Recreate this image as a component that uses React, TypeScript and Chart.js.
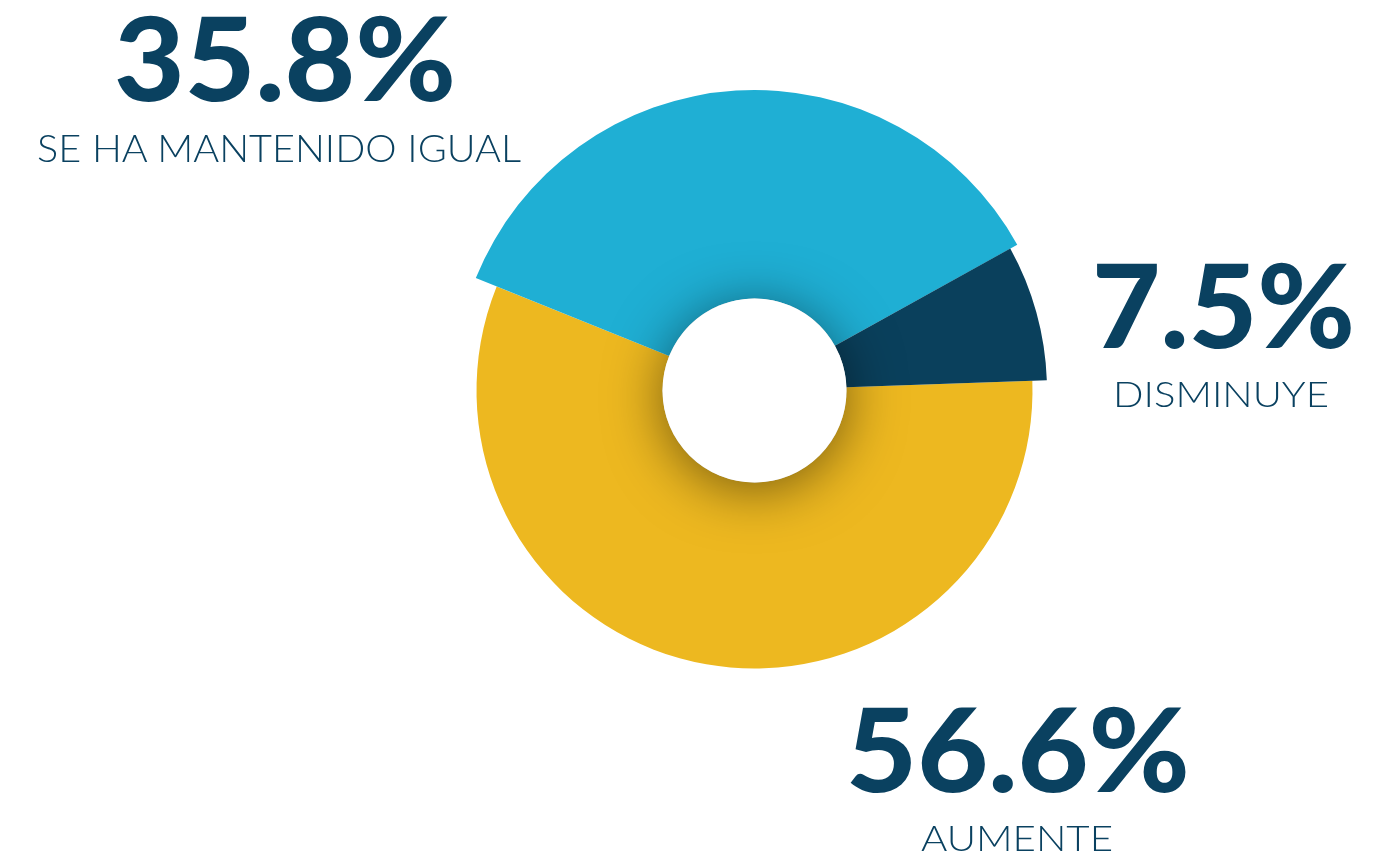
import React, { useEffect, useLayoutEffect, useRef } from "react";
import { Chart, registerables } from "chart.js";

Chart.register(...registerables);

// ---- data ----
const categories = ["AUMENTE", "SE HA MANTENIDO IGUAL", "DISMINUYE"];
const values = [56.6, 35.8, 7.5];
const valueLabels = ["56.6%", "35.8%", "7.5%"];

// ---- styles ----
const sliceColors = ["#edb820", "#1fafd4", "#0a405c"];
const radiusScale = [278 / 300.5, 1, 292.5 / 300.5];
const TEXT_COLOR = "#0a4160";
const OUTER_R = 300.5;
const INNER_R = 92;
const CX = 754.5;
const CY = 390.5;
const W = 1385;
const H = 858;

// label layout (ink boxes), index-aligned with categories
const bigLayout = [
  { left: 846, right: 1190, capTop: 708, baseline: 792 },
  { left: 114, right: 456, capTop: 18.3, baseline: 102 },
  { left: 1092, right: 1355, capTop: 264.5, baseline: 348 },
];
const subLayout = [
  { left: 921, right: 1113, capTop: 825, baseline: 851 },
  { left: 37, right: 521, capTop: 135, baseline: 162 },
  { left: 1113, right: 1329, capTop: 383, baseline: 408 },
];

const CAP = 0.7165;
const ASC = 0.887;

type Spec = { left: number; right: number; capTop: number; baseline: number };

function FitLabel({ text, spec, weight }: { text: string; spec: Spec; weight: number }) {
  const ref = useRef<HTMLDivElement>(null);
  const fontSize = (spec.baseline - spec.capTop) / CAP;
  const top = spec.baseline - ASC * fontSize;
  useLayoutEffect(() => {
    const el = ref.current;
    if (!el) return;
    const measure = () => {
      el.style.transform = "none";
      const w = el.getBoundingClientRect().width;
      if (w > 0) el.style.transform = `scaleX(${(spec.right - spec.left) / w})`;
    };
    measure();
    (document as any).fonts?.ready?.then(measure);
  }, []);
  return (
    <div
      ref={ref}
      style={{
        position: "absolute",
        left: spec.left,
        top,
        fontSize,
        fontFamily: "Lato, 'Noto Sans', sans-serif",
        fontWeight: weight,
        lineHeight: 1,
        whiteSpace: "nowrap",
        transformOrigin: "0 0",
        color: TEXT_COLOR,
      }}
    >
      {text}
    </div>
  );
}

export default function App() {
  const canvasRef = useRef<HTMLCanvasElement>(null);

  useEffect(() => {
    const canvas = canvasRef.current;
    if (!canvas) return;

    const radiusPlugin = {
      id: "sliceRadius",
      afterDatasetsUpdate(chart: any) {
        const meta = chart.getDatasetMeta(0);
        meta.data.forEach((arc: any, i: number) => {
          arc.outerRadius = OUTER_R * radiusScale[i];
        });
      },
    };

    const holeShadowPlugin = {
      id: "holeShadow",
      afterDatasetsDraw(chart: any) {
        const meta = chart.getDatasetMeta(0);
        const arc = meta.data[0];
        if (!arc) return;
        const ctx = chart.ctx;
        ctx.save();
        ctx.beginPath();
        ctx.arc(arc.x, arc.y, INNER_R, 0, Math.PI * 2);
        ctx.shadowColor = "rgba(0,0,0,0.5)";
        ctx.shadowBlur = 55;
        ctx.shadowOffsetY = 7;
        ctx.fillStyle = "#ffffff";
        ctx.fill();
        ctx.restore();
      },
    };

    const chart = new Chart(canvas, {
      type: "doughnut",
      data: {
        labels: categories,
        datasets: [
          {
            data: values,
            backgroundColor: sliceColors,
            borderWidth: 0,
            radius: OUTER_R,
            cutout: INNER_R,
          } as any,
        ],
      },
      options: {
        responsive: false,
        maintainAspectRatio: false,
        animation: false,
        devicePixelRatio: 1,
        rotation: 88,
        events: [],
        layout: {
          padding: {
            left: CX - OUTER_R,
            right: W - (CX + OUTER_R),
            top: CY - OUTER_R,
            bottom: H - (CY + OUTER_R),
          },
        },
        plugins: {
          legend: { display: false },
          tooltip: { enabled: false },
        },
      },
      plugins: [radiusPlugin, holeShadowPlugin],
    });

    return () => chart.destroy();
  }, []);

  return (
    <div
      style={{
        position: "absolute",
        left: 0,
        top: 0,
        width: W,
        height: H,
        overflow: "hidden",
        background: "#ffffff",
      }}
    >
      <canvas ref={canvasRef} width={W} height={H} style={{ position: "absolute", left: 0, top: 0 }} />
      {categories.map((c, i) => (
        <React.Fragment key={c}>
          <FitLabel text={valueLabels[i]} spec={bigLayout[i]} weight={900} />
          <FitLabel text={c} spec={subLayout[i]} weight={300} />
        </React.Fragment>
      ))}
    </div>
  );
}
